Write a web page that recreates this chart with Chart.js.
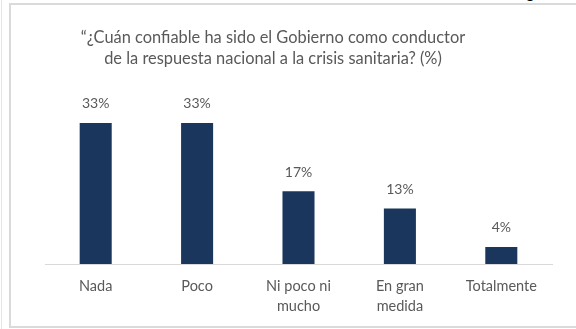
<!DOCTYPE html>
<html>
<head>
<meta charset="utf-8">
<script src="https://cdn.jsdelivr.net/npm/chart.js@4.4.1/dist/chart.umd.min.js"></script>
<style>
  html, body { margin: 0; padding: 0; background: #fff; }
  body { width: 576px; height: 329px; position: relative; overflow: hidden; }
  #edge { position: absolute; left: 1px; top: 0; width: 1px; height: 329px; background: #e6e6e6; }
  #frame { position: absolute; left: 9px; top: 3px; width: 620px; height: 321px; border: 2px solid #dadada; }
  #cut { position: absolute; left: 526px; top: -18px; font: 16px Lato, sans-serif; color: #000; }
  #wrap { position: absolute; left: 0; top: 0; width: 576px; height: 329px; }
</style>
</head>
<body>
<div id="edge"></div>
<div id="frame"></div>
<div id="cut">g</div>
<div id="wrap"><canvas id="grafico" width="576" height="329"></canvas></div>
<script>
// Datos de la encuesta
const categorias = [['Nada'], ['Poco'], ['Ni poco ni', 'mucho'], ['En gran', 'medida'], ['Totalmente']];
const porcentajes = [33, 33, 17, 13, 4];
const titulo = ['“¿Cuán confiable ha sido el Gobierno como conductor', 'de la respuesta nacional a la crisis sanitaria? (%)'];

const gris = '#595959';
const fuente = 'Lato, sans-serif';

// Título en dos líneas
const tituloPlugin = {
    id: 'tituloPlugin',
    afterDraw(chart) {
        const c = chart.ctx;
        c.save();
        c.fillStyle = gris;
        c.font = '16.4px ' + fuente;
        c.textAlign = 'center';
        c.textBaseline = 'alphabetic';
        c.fillText(titulo[0], 273, 43);
        c.fillText(titulo[1], 273, 64);
        c.restore();
    }
};

// Etiquetas de valor sobre cada barra
const valoresPlugin = {
    id: 'valoresPlugin',
    afterDatasetsDraw(chart) {
        const c = chart.ctx;
        const meta = chart.getDatasetMeta(0);
        c.save();
        c.fillStyle = gris;
        c.font = '14px ' + fuente;
        c.textAlign = 'center';
        c.textBaseline = 'alphabetic';
        meta.data.forEach((bar, i) => {
            c.fillText(porcentajes[i] + '%', bar.x, bar.y - 14.5);
        });
        c.restore();
    }
};

const ctx = document.getElementById('grafico').getContext('2d');
new Chart(ctx, {
    type: 'bar',
    data: {
        labels: categorias,
        datasets: [{
            data: porcentajes,
            backgroundColor: '#1b365d',
            borderWidth: 0,
            categoryPercentage: 1,
            barPercentage: 0.316
        }]
    },
    options: {
        responsive: false,
        animation: false,
        devicePixelRatio: 1,
        layout: { padding: { left: 45, right: 24, top: 93, bottom: 15 } },
        plugins: {
            legend: { display: false },
            title: { display: false },
            tooltip: { enabled: false }
        },
        scales: {
            x: {
                grid: { display: false, drawTicks: false },
                border: { display: true, color: '#d9d9d9', width: 1 },
                ticks: {
                    color: gris,
                    font: { family: fuente, size: 14.5, lineHeight: '20px' },
                    padding: 12,
                    maxRotation: 0,
                    autoSkip: false
                },
                afterFit(scale) { scale.height = 50; }
            },
            y: {
                display: false,
                min: 0,
                max: 40
            }
        }
    },
    plugins: [tituloPlugin, valoresPlugin]
});
</script>
</body>
</html>
